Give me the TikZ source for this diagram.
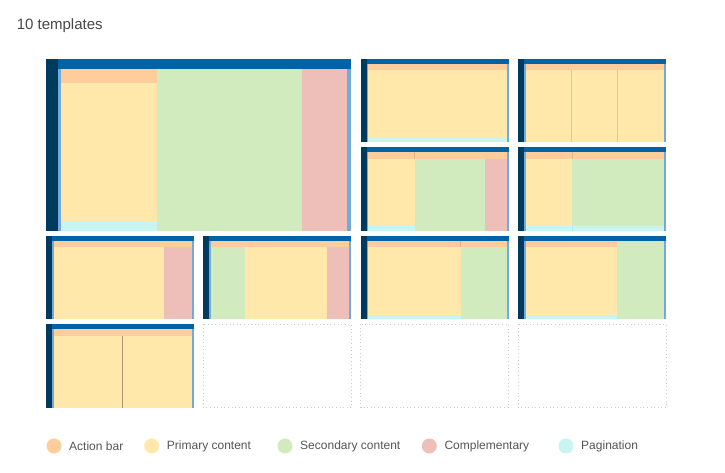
\documentclass[tikz,border=0pt]{standalone}
\usepackage{fontspec}
\setmainfont{Liberation Sans}
\usepackage{tikz}
\usetikzlibrary{positioning}

\definecolor{darkc}{HTML}{003A5C}
\definecolor{topc}{HTML}{0063A8}
\definecolor{edgec}{HTML}{72ABDB}
\definecolor{actionc}{HTML}{FFCD9B}
\definecolor{primaryc}{HTML}{FFE8AA}
\definecolor{secondaryc}{HTML}{D2EBBE}
\definecolor{complc}{HTML}{EEBFB9}
\definecolor{paginc}{HTML}{C8F5F2}
\definecolor{dividerc}{HTML}{E2C98F}
\definecolor{textc}{HTML}{555555}

\tikzset{
	actionbar/.style={fill=actionc},
	primary/.style={fill=primaryc},
	secondary/.style={fill=secondaryc},
	compl/.style={fill=complc},
	pagin/.style={fill=paginc},
	divider/.style={draw=dividerc, line width=0.6pt},
	actiondiv/.style={draw=actionc!80!black!60!actionc, line width=0.5pt},
	emptytile/.style={draw=black!20, dotted, line width=0.7pt},
	dot/.style={circle, minimum size=11.25pt, inner sep=0pt, outer sep=0pt},
	legendtext/.style={text=textc, inner sep=0pt, font=\fontsize{9}{11}\selectfont}
}
% frame of one template: dark side bar, blue top bar, light edges
\newcommand{\tileframe}{%
	\fill[darkc] (0,0) rectangle (6,83.4);
	\fill[topc] (6,0) rectangle (148,5);
	\fill[edgec] (6,5) rectangle (7.5,83.4);
	\fill[edgec] (146,5) rectangle (148,83.4);
}

\begin{document}
\begin{tikzpicture}[x=0.75pt, y=-0.75pt]
	% page
	\fill[white] (0,0) rectangle (725,473);
	\useasboundingbox (0,0) rectangle (725,473);
	
	% title
	\node[anchor=base west, inner sep=0pt, text=textc!85!black, font=\fontsize{11.25}{13}\selectfont] (title) at (16.5,30) {10 templates};
	
	% big template
	\begin{scope}[shift={(46,59)}, scale=2.063]
		\tileframe
		\fill[actionbar] (7.5,5) rectangle (54,11.5);
		\fill[primary] (7.5,11.5) rectangle (54,78.9);
		\fill[pagin] (7.5,78.9) rectangle (54,83.4);
		\fill[secondary] (54,5) rectangle (124,83.4);
		\fill[compl] (124,5) rectangle (146,83.4);
	\end{scope}
	
	% row 1
	\begin{scope}[shift={(360.6,59)}]
		\tileframe
		\fill[actionbar] (7.5,5) rectangle (146,11.5);
		\fill[primary] (7.5,11.5) rectangle (146,78.9);
		\fill[pagin] (7.5,78.9) rectangle (146,83.4);
	\end{scope}
	\begin{scope}[shift={(518,59)}]
		\tileframe
		\fill[actionbar] (7.5,5) rectangle (146,11.5);
		\fill[primary] (7.5,11.5) rectangle (146,83.4);
		\draw[divider] (53.7,11.5) -- (53.7,83.4);
		\draw[divider] (99.8,11.5) -- (99.8,83.4);
	\end{scope}
	
	% row 2
	\begin{scope}[shift={(360.6,147.4)}]
		\tileframe
		\fill[actionbar] (7.5,5) rectangle (146,11.5);
		\draw[actiondiv] (54,5) -- (54,11.5);
		\fill[primary] (7.5,11.5) rectangle (54,78.9);
		\fill[pagin] (7.5,78.9) rectangle (54,83.4);
		\fill[secondary] (54,11.5) rectangle (124,83.4);
		\fill[compl] (124,11.5) rectangle (146,83.4);
	\end{scope}
	\begin{scope}[shift={(518,147.4)}]
		\tileframe
		\fill[actionbar] (7.5,5) rectangle (146,11.5);
		\draw[actiondiv] (54,5) -- (54,11.5);
		\fill[primary] (7.5,11.5) rectangle (54,78.9);
		\fill[secondary] (54,11.5) rectangle (146,78.9);
		\fill[pagin] (7.5,78.9) rectangle (146,83.4);
		\draw[draw=paginc!85!black!40!paginc, line width=0.4pt] (54,78.9) -- (54,83.4);
	\end{scope}
	
	% row 3
	\begin{scope}[shift={(46,235.8)}]
		\tileframe
		\fill[actionbar] (7.5,5) rectangle (146,11.5);
		\fill[primary] (7.5,11.5) rectangle (118.3,83.4);
		\fill[compl] (118.3,11.5) rectangle (146,83.4);
	\end{scope}
	\begin{scope}[shift={(203.3,235.8)}]
		\tileframe
		\fill[actionbar] (7.5,5) rectangle (146,11.5);
		\fill[secondary] (7.5,11.5) rectangle (41.3,83.4);
		\fill[primary] (41.3,11.5) rectangle (124,83.4);
		\fill[compl] (124,11.5) rectangle (146,83.4);
	\end{scope}
	\begin{scope}[shift={(360.6,235.8)}]
		\tileframe
		\fill[actionbar] (7.5,5) rectangle (146,11.5);
		\draw[actiondiv] (100,5) -- (100,11.5);
		\fill[primary] (7.5,11.5) rectangle (100,78.9);
		\fill[pagin] (7.5,78.9) rectangle (100,83.4);
		\fill[secondary] (100,11.5) rectangle (146,83.4);
	\end{scope}
	\begin{scope}[shift={(518,235.8)}]
		\tileframe
		\fill[actionbar] (7.5,5) rectangle (99.3,11.5);
		\fill[primary] (7.5,11.5) rectangle (99.3,78.9);
		\fill[pagin] (7.5,78.9) rectangle (99.3,83.4);
		\fill[secondary] (99.3,5) rectangle (146,83.4);
	\end{scope}
	
	% row 4
	\begin{scope}[shift={(46,324.3)}]
		\tileframe
		\fill[actionbar] (7.5,5) rectangle (146,11.5);
		\fill[primary] (7.5,11.5) rectangle (146,83.4);
		\draw[divider, draw=black!25!dividerc] (76.75,11.5) -- (76.75,83.4);
	\end{scope}
	% empty places
	\draw[emptytile] (203.3,324.3) rectangle +(148,83.4);
	\draw[emptytile] (360.6,324.3) rectangle +(148,83.4);
	\draw[emptytile] (518,324.3) rectangle +(148,83.4);
	
	% legend
	\node[dot, fill=actionc] (dotaction) at (54,446) {};
	\node[legendtext, right=5.6pt of dotaction] (labaction) {Action bar};
	\node[dot, fill=primaryc] (dotprimary) at (151.7,446) {};
	\node[legendtext, right=5.6pt of dotprimary] (labprimary) {Primary content};
	\node[dot, fill=secondaryc] (dotsecondary) at (285,446) {};
	\node[legendtext, right=5.6pt of dotsecondary] (labsecondary) {Secondary content};
	\node[dot, fill=complc] (dotcompl) at (429.3,446) {};
	\node[legendtext, right=5.6pt of dotcompl] (labcompl) {Complementary};
	\node[dot, fill=paginc] (dotpagin) at (566,446) {};
	\node[legendtext, right=5.6pt of dotpagin] (labpagin) {Pagination};
\end{tikzpicture}
\end{document}
